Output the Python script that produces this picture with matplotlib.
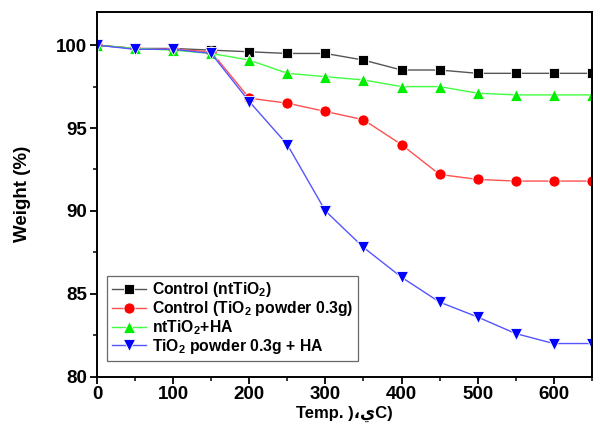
import matplotlib
matplotlib.use("Agg")
import matplotlib.pyplot as plt
from matplotlib.ticker import MultipleLocator

# Data
temp = [0, 50, 100, 150, 200, 250, 300, 350, 400, 450, 500, 550, 600, 650]
control_nt = [100.0, 99.8, 99.8, 99.7, 99.6, 99.5, 99.5, 99.1, 98.5, 98.5, 98.3, 98.3, 98.3, 98.3]
control_powder = [100.0, 99.8, 99.75, 99.6, 96.8, 96.5, 96.0, 95.5, 94.0, 92.2, 91.9, 91.8, 91.8, 91.8]
nt_ha = [100.0, 99.8, 99.7, 99.5, 99.1, 98.3, 98.1, 97.9, 97.5, 97.5, 97.1, 97.0, 97.0, 97.0]
powder_ha = [100.0, 99.75, 99.75, 99.5, 96.6, 94.0, 90.0, 87.8, 86.0, 84.5, 83.6, 82.6, 82.0, 82.0]

labels = [r"Control (ntTiO$_2$)",
          r"Control (TiO$_2$ powder 0.3g)",
          r"ntTiO$_2$+HA",
          r"TiO$_2$ powder 0.3g + HA"]

plt.rcParams['font.family'] = ['Liberation Sans', 'DejaVu Sans']
plt.rcParams['font.weight'] = 'bold'
plt.rcParams['mathtext.fontset'] = 'custom'
plt.rcParams['mathtext.rm'] = 'Liberation Sans:bold'
plt.rcParams['mathtext.it'] = 'Liberation Sans:bold'
plt.rcParams['mathtext.bf'] = 'Liberation Sans:bold'

fig = plt.figure(figsize=(5.93, 4.38), dpi=100)
ax = fig.add_axes([0.1636, 0.14, 0.8344, 0.8326])

# each series: marker colour, line colour, marker, size
styles = [
    (control_nt, "black", "#555555", "s", 7),
    (control_powder, "#ff0000", "#ff5050", "o", 8),
    (nt_ha, "#00ee00", "#40ff40", "^", 8.5),
    (powder_ha, "#0000ff", "#5555ff", "v", 8.5),
]
for (vals, mc, lc, mk, ms), lab in zip(styles, labels):
    ax.plot(temp, vals, color=lc, lw=1.0, marker=mk, markersize=ms,
            markerfacecolor=mc, markeredgecolor="white", markeredgewidth=0.6,
            label=lab)

ax.set_xlim(0, 650)
ax.set_ylim(80, 102)
ax.xaxis.set_major_locator(MultipleLocator(100))
ax.xaxis.set_minor_locator(MultipleLocator(50))
ax.yaxis.set_major_locator(MultipleLocator(5))
ax.yaxis.set_minor_locator(MultipleLocator(2.5))
ax.tick_params(which="major", direction="out", length=5, width=1.3, labelsize=13.5, pad=2)
ax.tick_params(which="minor", direction="out", length=3, width=1.1)
for s in ax.spines.values():
    s.set_linewidth(1.4)

ax.set_ylabel("Weight (%)", fontsize=13.5, fontweight="bold", labelpad=18)
ax.set_xlabel("Temp. )\u060c\u064aC)", fontsize=12, fontweight="bold", labelpad=2)

leg = ax.legend(loc="lower left", bbox_to_anchor=(0.02, 0.044), borderaxespad=0,
                fontsize=11.3, frameon=True, fancybox=False,
                edgecolor="#444444", handlelength=2.2,
                handletextpad=0.4, labelspacing=0.0, borderpad=0.3)
leg.get_frame().set_linewidth(0.9)

fig.savefig("out.png", dpi=100)
